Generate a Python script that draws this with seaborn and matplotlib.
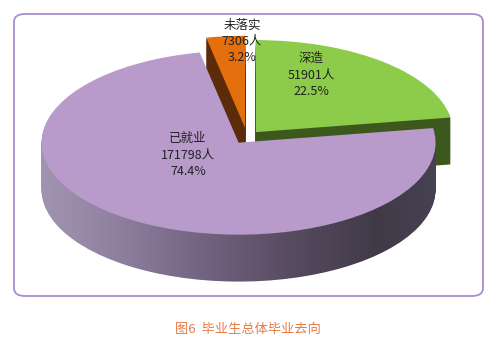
import numpy as np
import matplotlib
matplotlib.use("Agg")
import matplotlib.pyplot as plt
import seaborn as sns
from matplotlib.colors import LinearSegmentedColormap
from matplotlib.patches import FancyBboxPatch

# data (clockwise from 12 o'clock)
categories = ['深造', '已就业', '未落实']
counts = [51901, 171798, 7306]
percents = ['22.5%', '74.4%', '3.2%']
top_colors = ['#8dcb4b', '#b99bcb', '#e3700c']
side_colors = ['#3d581d', None, '#5c2b09']   # None -> gradient side
explode = [0.07, 0.075, 0.10]

sns.set_theme(style="white")
plt.rcParams['font.family'] = ['Noto Sans CJK SC', 'DejaVu Sans']

fig = plt.figure(figsize=(4.99, 3.56), dpi=100)
ax = fig.add_axes([0, 0, 1, 1])

# rounded frame
frame = FancyBboxPatch((14 / 499, 60 / 356), 469 / 499, 282 / 356,
                       boxstyle="round,pad=0,rounding_size=0.022",
                       transform=fig.transFigure, fill=False,
                       edgecolor='#a88ed0', linewidth=1.3, zorder=0)
fig.patches.append(frame)

side_cmap = LinearSegmentedColormap.from_list(
    'side', ['#a597b3', '#8f80a0', '#726381', '#574b60', '#403a48', '#4a4556'])
grad = np.linspace(0, 1, 256).reshape(1, -1)

# side walls: stacked copies of the pie shifted downwards
depth = 0.51
n_layers = 60
for k in range(n_layers):
    dy = -depth * (1 - k / n_layers)
    cols = [c if c is not None else '#6a5c76' for c in side_colors]
    wedges, _ = ax.pie(counts, colors=cols, startangle=90, counterclock=False,
                       explode=explode, center=(0, dy),
                       wedgeprops=dict(linewidth=0, antialiased=True))
    z = 1 + k / 100
    for w, sc in zip(wedges, side_colors):
        w.set_zorder(z)
        if sc is None:
            w.set_facecolor('none')
            im = ax.imshow(grad, cmap=side_cmap, aspect='auto',
                           extent=(-1.1, 1.1, -2.0, 0.6), zorder=z + 0.001,
                           interpolation='bilinear')
            im.set_clip_path(w)

# top surface
wedges, _ = ax.pie(counts, colors=top_colors, startangle=90, counterclock=False,
                   explode=explode,
                   wedgeprops=dict(linewidth=0, antialiased=True))
for w in wedges:
    w.set_zorder(3)

ax.set_aspect('auto')
ax.set_xlim(-247 / 197, (499 - 247) / 197)
ax.set_ylim(-219 / 92, (356 - 219) / 92)
ax.axis('off')

label_pos = [(0.325, 0.674), (-0.30, -0.196), (-0.025, 1.04)]
for (x, y), cat, n, p in zip(label_pos, categories, counts, percents):
    ax.text(x, y, f"{cat}\n{n}人\n{p}", ha='center', va='center',
            fontsize=9, color='#222222', linespacing=1.35, zorder=5)

fig.text(248 / 499, 1 - 329 / 356, '图6  毕业生总体毕业去向', ha='center', va='center',
         fontsize=9.5, color='#e87a44')

fig.savefig('out.png', dpi=100)
